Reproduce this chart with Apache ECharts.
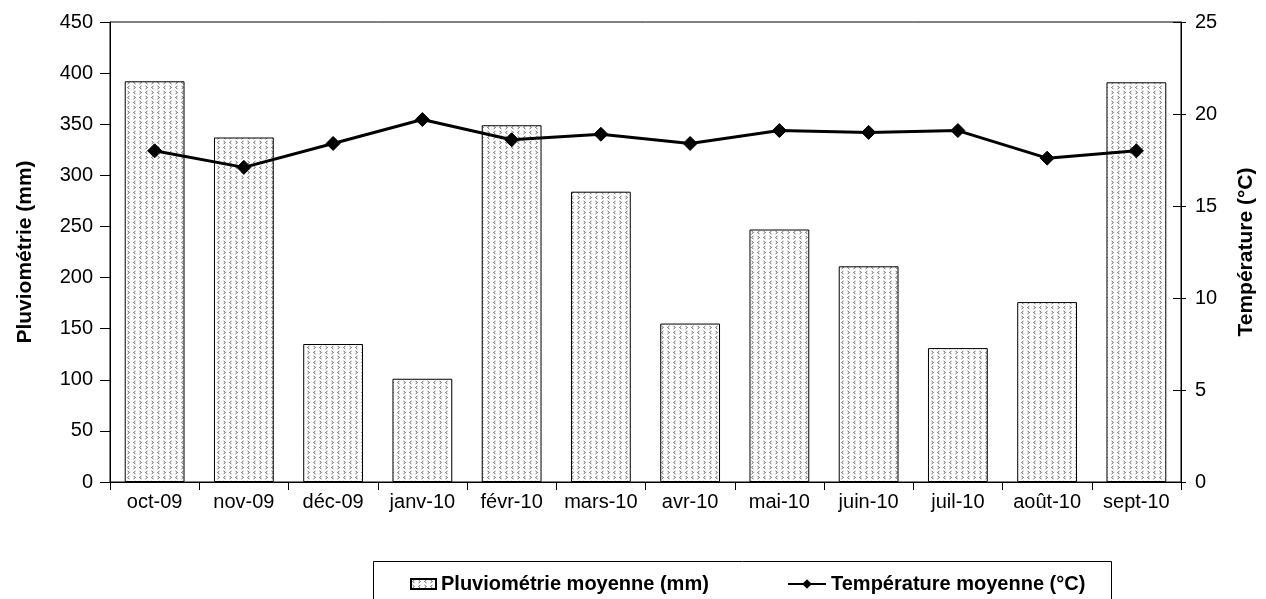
<!DOCTYPE html>
<html>
<head>
<meta charset="utf-8">
<script src="https://cdn.jsdelivr.net/npm/echarts@6/dist/echarts.min.js"></script>
<style>
  html, body { margin: 0; padding: 0; background: #fff; }
  #chart { width: 1266px; height: 599px; }
</style>
</head>
<body>
<div id="chart"></div>
<script>
// Monthly categories, Oct 2009 – Sept 2010
const months = ['oct-09', 'nov-09', 'déc-09', 'janv-10', 'févr-10', 'mars-10',
                'avr-10', 'mai-10', 'juin-10', 'juil-10', 'août-10', 'sept-10'];
// Mean rainfall (mm)
const rainfall = [392, 337, 135, 101, 349, 284, 155, 247, 211, 131, 176, 391];
// Mean temperature (°C)
const temperature = [18.0, 17.1, 18.4, 19.7, 18.6, 18.9, 18.4, 19.1, 19.0, 19.1, 17.6, 18.0];

const rainName = 'Pluviométrie moyenne (mm)';
const tempName = 'Température moyenne (°C)';
const font = '"Liberation Sans", Arial, sans-serif';

// Small chevron fill used for the rainfall bars
function chevronTile() {
  const c = document.createElement('canvas');
  c.width = 12; c.height = 10;
  const g = c.getContext('2d');
  g.fillStyle = '#ffffff';
  g.fillRect(0, 0, 12, 10);
  g.strokeStyle = '#6a6a6a';
  g.lineWidth = 1;
  function chev(x, y, dir) {
    g.beginPath();
    g.moveTo(x + 2 * dir, y - 1.5);
    g.lineTo(x, y);
    g.lineTo(x + 2 * dir, y + 1.5);
    g.stroke();
  }
  chev(1.5, 2.5, 1);
  chev(9.5, 2.5, -1);
  chev(3.5, 7.5, -1);
  chev(7.5, 7.5, 1);
  return c;
}
const pattern = { image: chevronTile(), repeat: 'repeat' };

const tickLabel = { color: '#000', fontSize: 20, fontFamily: font };
const axisName = { fontFamily: font, fontSize: 21, fontWeight: 'bold', color: '#000' };
const legendText = { fontFamily: font, fontSize: 20, fontWeight: 'bold', color: '#000' };

const chart = echarts.init(document.getElementById('chart'));
chart.setOption({
  animation: false,
  backgroundColor: '#ffffff',
  textStyle: { fontFamily: font },
  grid: {
    left: 110, right: 85, top: 22, bottom: 117,
    show: true, borderColor: '#000', borderWidth: 1
  },
  legend: [{
    left: 405, top: 569,
    itemWidth: 25, itemHeight: 10,
    textStyle: legendText,
    data: [{ name: rainName, icon: 'rect' }]
  }, {
    left: 782, top: 569,
    itemWidth: 38, itemHeight: 12,
    textStyle: legendText,
    data: [{ name: tempName }]
  }],
  graphic: [{
    type: 'rect',
    shape: { x: 373.5, y: 561.5, width: 738, height: 60 },
    style: { fill: 'none', stroke: '#000', lineWidth: 1 },
    silent: true
  }],
  xAxis: {
    type: 'category',
    data: months,
    axisLine: { lineStyle: { color: '#000', width: 1 } },
    axisTick: { show: true, length: 8, lineStyle: { color: '#000' } },
    axisLabel: Object.assign({ margin: 10, interval: 0 }, tickLabel),
    splitLine: { show: false }
  },
  yAxis: [{
    type: 'value',
    min: 0, max: 450, interval: 50,
    name: 'Pluviométrie (mm)',
    nameLocation: 'middle',
    nameGap: 74,
    nameRotate: 90,
    nameTextStyle: axisName,
    axisLine: { show: true, lineStyle: { color: '#000', width: 1 } },
    axisTick: { show: true, length: 10, lineStyle: { color: '#000' } },
    axisLabel: Object.assign({ margin: 17 }, tickLabel),
    splitLine: { show: false }
  }, {
    type: 'value',
    min: 0, max: 25, interval: 5,
    name: 'Température (°C)',
    nameLocation: 'middle',
    nameGap: 55,
    nameRotate: 90,
    nameTextStyle: axisName,
    axisLine: { show: true, lineStyle: { color: '#000', width: 1 } },
    axisTick: { show: true, length: 5, lineStyle: { color: '#000' } },
    axisLabel: Object.assign({ margin: 14 }, tickLabel),
    splitLine: { show: false }
  }, {
    // inner half of the crossing ticks on the temperature axis
    type: 'value',
    position: 'right',
    min: 0, max: 25, interval: 5,
    axisLine: { show: false },
    axisTick: { show: true, inside: true, length: 8, lineStyle: { color: '#000' } },
    axisLabel: { show: false },
    splitLine: { show: false }
  }],
  series: [{
    name: rainName,
    type: 'bar',
    yAxisIndex: 0,
    data: rainfall,
    barCategoryGap: '33%',
    itemStyle: { color: pattern, borderColor: '#000', borderWidth: 1 }
  }, {
    name: tempName,
    type: 'line',
    yAxisIndex: 1,
    data: temperature,
    symbol: 'diamond',
    symbolSize: 14,
    lineStyle: { color: '#000', width: 3 },
    itemStyle: { color: '#000', borderColor: '#000' },
    z: 5
  }]
});
</script>
</body>
</html>
